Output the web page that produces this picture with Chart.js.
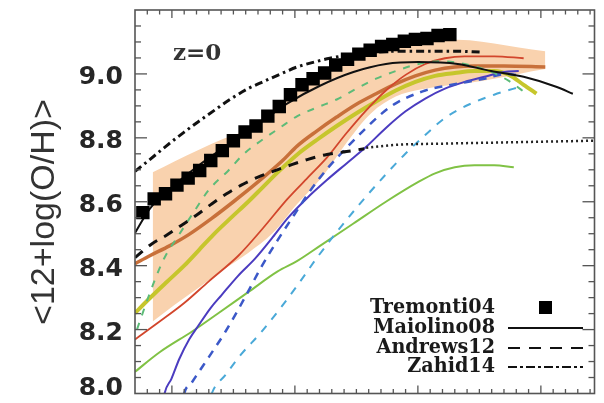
<!DOCTYPE html>
<html>
<head>
<meta charset="utf-8">
<script src="https://cdn.jsdelivr.net/npm/chart.js@4/dist/chart.umd.min.js"></script>
<style>
html,body{margin:0;padding:0;background:#fff;}
canvas{display:block;}
</style>
</head>
<body>
<canvas id="c" width="604" height="403"></canvas>
<script>
// ---- data (x = log stellar mass, y = <12+log(O/H)>) ----
const tremontiX = [8.764,8.856,8.948,9.041,9.132,9.226,9.316,9.410,9.500,9.595,9.684,9.780,9.873,9.964,10.058,10.148,10.242,10.332,10.428,10.520,10.612,10.705,10.796,10.890,10.980,11.074,11.164,11.260];
const tremontiY = [8.566,8.609,8.625,8.652,8.674,8.698,8.729,8.760,8.791,8.818,8.837,8.868,8.898,8.935,8.966,8.985,9.003,9.028,9.046,9.062,9.074,9.086,9.092,9.102,9.108,9.111,9.120,9.123];

const maiolinoX = [8.70,8.82,9.02,9.22,9.42,9.62,9.78,9.94,10.204,10.476,10.74,11.004,11.324,11.596,11.86,12.124,12.26];
const maiolinoY = [8.502,8.578,8.652,8.714,8.769,8.822,8.865,8.908,8.963,9.006,9.031,9.037,9.031,9.009,8.991,8.960,8.938];

const andrewsX = [8.70,8.836,8.956,9.076,9.196,9.316,9.444,9.564,9.70,9.844,9.98,10.10,10.26,10.42,10.564];
const andrewsY = [8.425,8.468,8.495,8.526,8.557,8.591,8.625,8.652,8.677,8.698,8.717,8.732,8.748,8.757,8.766];

const andrewsExtX = [10.58,10.82,11.22,11.62,12.02,12.436];
const andrewsExtY = [8.769,8.778,8.782,8.785,8.788,8.791];

const zahidX = [8.70,8.82,8.956,9.10,9.22,9.356,9.484,9.62,9.756,9.884,10.02,10.156,10.284,10.42,10.58,10.82,11.06,11.30,11.516];
const zahidY = [8.695,8.732,8.775,8.818,8.852,8.889,8.923,8.954,8.978,9.000,9.022,9.037,9.049,9.058,9.065,9.071,9.071,9.071,9.068];

const greenDashX = [8.716,8.78,8.86,8.94,9.06,9.18,9.30,9.46,9.58,9.724,9.876,10.02,10.18,10.34,10.50,10.66,10.82,11.004,11.18,11.38,11.58,11.74,11.884];
const greenDashY = [8.200,8.271,8.354,8.425,8.498,8.569,8.637,8.698,8.748,8.791,8.831,8.868,8.895,8.920,8.954,8.985,9.009,9.031,9.040,9.031,9.009,8.978,8.938];

const orangeX = [8.70,8.82,8.98,9.14,9.324,9.50,9.70,9.90,10.02,10.18,10.34,10.50,10.66,10.82,10.98,11.14,11.30,11.46,11.70,12.036];
const orangeY = [8.406,8.431,8.462,8.498,8.548,8.600,8.662,8.729,8.775,8.822,8.865,8.905,8.938,8.969,8.994,9.012,9.022,9.025,9.025,9.022];

const yellowX = [8.70,8.82,8.956,9.10,9.22,9.34,9.484,9.62,9.74,9.86,10.02,10.18,10.34,10.50,10.66,10.82,10.98,11.14,11.30,11.46,11.62,11.74,11.86,11.964];
const yellowY = [8.252,8.298,8.348,8.400,8.449,8.498,8.551,8.600,8.646,8.692,8.748,8.794,8.837,8.877,8.914,8.948,8.975,8.994,9.003,9.009,9.009,8.997,8.966,8.938];

const redX = [8.70,8.90,9.10,9.30,9.54,9.74,9.94,10.124,10.26,10.42,10.58,10.74,10.90,11.06,11.22,11.38,11.62,11.86];
const redY = [8.169,8.225,8.283,8.351,8.431,8.517,8.609,8.683,8.738,8.815,8.886,8.948,8.997,9.031,9.049,9.055,9.055,9.049];

const blueX = [8.92,8.94,8.996,9.06,9.14,9.22,9.316,9.404,9.54,9.676,9.82,9.94,10.10,10.26,10.42,10.58,10.74,10.90,11.06,11.22,11.38,11.54,11.70,11.82];
const blueY = [7.95,8.000,8.046,8.108,8.169,8.215,8.268,8.308,8.369,8.422,8.489,8.548,8.612,8.668,8.720,8.772,8.831,8.883,8.923,8.954,8.975,8.991,9.006,9.009];

const blueDashX = [9.08,9.10,9.156,9.22,9.30,9.436,9.596,9.724,9.86,9.996,10.124,10.26,10.42,10.58,10.70,10.82,11.06,11.276,11.54,11.724,11.836];
const blueDashY = [7.95,8.000,8.031,8.068,8.114,8.194,8.302,8.394,8.480,8.560,8.634,8.702,8.769,8.831,8.874,8.908,8.948,8.966,8.985,9.000,8.994];

const cyanX = [9.29,9.324,9.436,9.564,9.724,9.884,10.02,10.18,10.34,10.556,10.74,10.90,11.06,11.22,11.42,11.62,11.78,11.86];
const cyanY = [7.95,8.000,8.058,8.123,8.191,8.268,8.338,8.425,8.505,8.606,8.686,8.751,8.809,8.862,8.905,8.935,8.954,8.963];

const greenX = [8.70,8.90,9.164,9.38,9.62,9.86,10.02,10.204,10.476,10.74,11.004,11.14,11.30,11.46,11.62,11.78];
const greenY = [8.068,8.129,8.194,8.252,8.317,8.382,8.415,8.462,8.532,8.600,8.662,8.689,8.708,8.714,8.714,8.708];

const bandX = [8.844,9.02,9.22,9.42,9.62,9.82,10.02,10.22,10.42,10.62,10.82,11.02,11.22,11.42,11.62,11.82,12.036];
const bandUpper = [8.692,8.726,8.763,8.797,8.828,8.886,8.954,9.000,9.040,9.068,9.092,9.105,9.108,9.105,9.095,9.083,9.071];
const bandLower = [8.225,8.277,8.332,8.388,8.440,8.502,8.594,8.677,8.785,8.877,8.929,8.951,8.963,8.972,8.985,9.000,9.015];

const yTickLabels = ['8.0','8.2','8.4','8.6','8.8','9.0'];
const xMajorTicks = [9,10,11,12];
const legendLabels = ['Tremonti04','Maiolino08','Andrews12','Zahid14'];
const yTitle = '<12+log(O/H)>';
const panelLabel = 'z=0';

// ---- helpers ----
const pts = (xs, ys) => xs.map((x, i) => ({x: x, y: ys[i]}));
function lineDS(xs, ys, color, width, dash) {
  return {data: pts(xs, ys), borderColor: color, borderWidth: width, borderDash: dash || [],
    pointRadius: 0, fill: false, cubicInterpolationMode: 'monotone', clip: 0, borderCapStyle: 'butt'};
}

const datasets = [
  {data: pts(tremontiX, tremontiY), showLine: false, pointStyle: 'rect', pointRadius: 9.5,
   pointBackgroundColor: '#000', pointBorderWidth: 0, borderColor: '#000', clip: 0},
  lineDS(zahidX, zahidY, '#111', 3, [8, 4, 2.5, 4]),
  lineDS(andrewsX, andrewsY, '#111', 3, [10, 8]),
  lineDS(andrewsExtX, andrewsExtY, '#222', 2.5, [2, 3]),
  lineDS(maiolinoX, maiolinoY, '#111', 2),
  lineDS(greenDashX, greenDashY, '#5dbb78', 2, [7, 8]),
  lineDS(blueDashX, blueDashY, '#3b58c8', 2.5, [8, 7]),
  lineDS(cyanX, cyanY, '#4aa9d8', 2, [8, 8]),
  lineDS(redX, redY, '#d2462c', 1.8),
  lineDS(blueX, blueY, '#4b3cc0', 2),
  lineDS(greenX, greenY, '#80c245', 2),
  lineDS(orangeX, orangeY, '#c8703a', 3.5),
  lineDS(yellowX, yellowY, '#c6c62c', 4),
  {data: pts(bandX, bandUpper), borderWidth: 0, pointRadius: 0, fill: '+1',
   backgroundColor: '#f9d2ae', cubicInterpolationMode: 'monotone', clip: 0},
  {data: pts(bandX, bandLower), borderWidth: 0, pointRadius: 0, fill: false,
   cubicInterpolationMode: 'monotone', clip: 0}
];

const decor = {
  id: 'decor',
  afterDraw(chart) {
    const ctx = chart.ctx, a = chart.chartArea, xs = chart.scales.x, ys = chart.scales.y;
    ctx.save();
    // frame
    ctx.strokeStyle = '#555';
    ctx.lineWidth = 1.6;
    ctx.strokeRect(a.left, a.top, a.right - a.left, a.bottom - a.top);
    ctx.lineWidth = 1.3;
    const seg = (x1, y1, x2, y2) => { ctx.beginPath(); ctx.moveTo(x1, y1); ctx.lineTo(x2, y2); ctx.stroke(); };
    // x ticks (top & bottom, inward)
    for (let i = 87; i <= 124; i++) {
      const px = xs.getPixelForValue(i / 10);
      if (px < a.left + 1 || px > a.right - 1) continue;
      const major = xMajorTicks.indexOf(i / 10) >= 0;
      const L = major ? 8 : 4.5;
      seg(px, a.top, px, a.top + L);
      seg(px, a.bottom, px, a.bottom - L);
    }
    // y ticks (left & right, inward)
    for (let i = 160; i <= 184; i++) {
      const py = ys.getPixelForValue(i / 20);
      if (py < a.top + 1 || py > a.bottom - 1) continue;
      const major = i % 4 === 0;
      const L = major ? 12 : 6;
      seg(a.left, py, a.left + L, py);
      seg(a.right, py, a.right - L, py);
    }
    // y tick labels
    ctx.fillStyle = '#262626';
    ctx.font = "bold 25px 'DejaVu Sans'";
    ctx.textAlign = 'right';
    ctx.textBaseline = 'middle';
    yTickLabels.forEach(t => {
      const py = ys.getPixelForValue(parseFloat(t));
      ctx.fillText(t, a.left - 12, Math.min(py + 4, 388));
    });
    // y title
    ctx.save();
    ctx.translate(45, 212);
    ctx.rotate(-Math.PI / 2);
    ctx.font = "34px 'Liberation Sans'";
    ctx.fillStyle = '#333';
    ctx.textAlign = 'center';
    ctx.textBaseline = 'middle';
    ctx.fillText(yTitle, 0, 0);
    ctx.restore();
    // panel label
    ctx.font = "bold 23px 'DejaVu Serif'";
    ctx.fillStyle = '#333';
    ctx.textAlign = 'left';
    ctx.textBaseline = 'middle';
    ctx.fillText(panelLabel, 173, 54);
    // legend
    ctx.font = "bold 20px 'DejaVu Serif'";
    const w0 = ctx.measureText(legendLabels[0]).width;
    const sx = 125 / w0;
    const rows = [308, 328, 348, 367];
    ctx.fillStyle = '#1a1a1a';
    ctx.textAlign = 'right';
    ctx.textBaseline = 'middle';
    legendLabels.forEach((t, i) => {
      ctx.save();
      ctx.translate(495, rows[i]);
      ctx.scale(sx, 1);
      ctx.fillText(t, 0, 0);
      ctx.restore();
    });
    ctx.fillStyle = '#000';
    ctx.fillRect(539, 301, 13, 13);
    ctx.strokeStyle = '#111';
    ctx.lineWidth = 2;
    seg(508, rows[1], 583, rows[1]);
    ctx.setLineDash([12, 9]);
    seg(508, rows[2], 583, rows[2]);
    ctx.setLineDash([9, 3, 3, 3]);
    seg(508, rows[3], 583, rows[3]);
    ctx.setLineDash([]);
    ctx.restore();
  }
};

new Chart(document.getElementById('c'), {
  type: 'line',
  data: {datasets: datasets},
  options: {
    responsive: false,
    animation: false,
    devicePixelRatio: 1,
    layout: {padding: {left: 135, right: 2, top: 10, bottom: 4}},
    plugins: {legend: {display: false}, tooltip: {enabled: false}},
    scales: {
      x: {type: 'linear', min: 8.7, max: 12.436, display: false},
      y: {type: 'linear', min: 8.0, max: 9.2, display: false}
    }
  },
  plugins: [decor]
});
</script>
</body>
</html>
